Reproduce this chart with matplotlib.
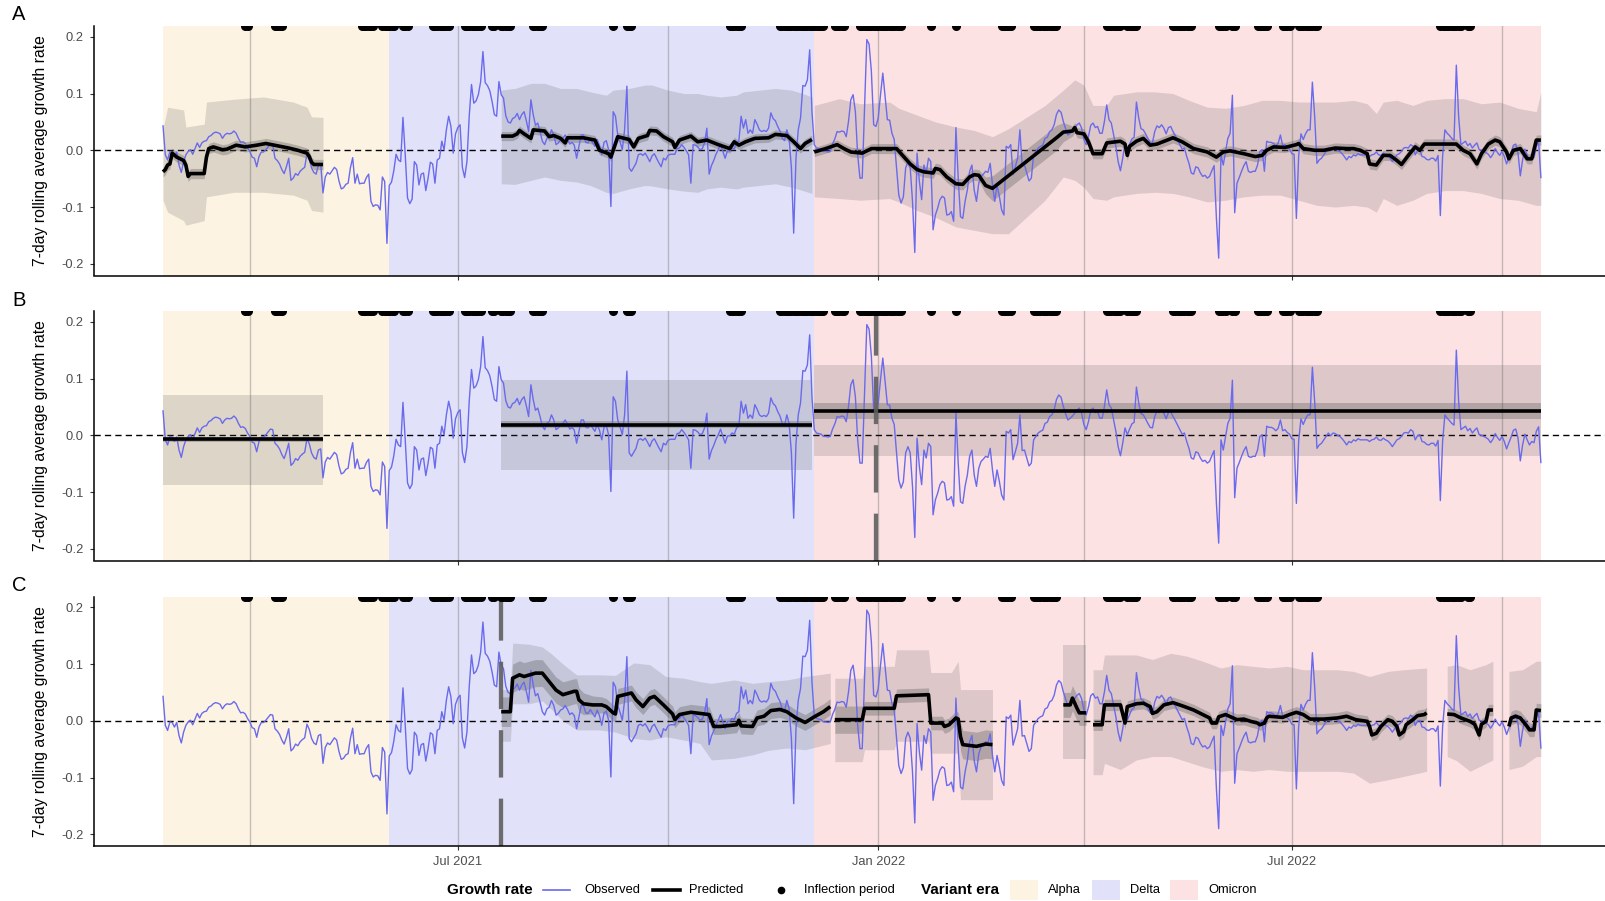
import matplotlib

matplotlib.use("Agg")
import matplotlib.pyplot as plt
import numpy as np
from matplotlib.lines import Line2D
from matplotlib.patches import Rectangle

plt.rcParams["font.family"] = ["Liberation Sans", "DejaVu Sans"]

# all days are offsets from the first observation
START = np.datetime64("2021-02-22")

# observed 7-day rolling average growth rate, one value per day (d0..d603)
OBSERVED = [
    0.043, -0.008, -0.017, -0.002, -0.003, -0.011, -0.003, -0.026, -0.039, -0.020,
    -0.008, -0.002, 0.001, -0.007, 0.003, 0.013, 0.005, 0.013, 0.016, 0.017,
    0.024, 0.026, 0.030, 0.032, 0.031, 0.029, 0.021, 0.027, 0.030, 0.029,
    0.030, 0.034, 0.030, 0.021, 0.014, 0.015, 0.012, 0.004, -0.002, -0.012,
    -0.014, -0.029, -0.011, -0.003, -0.003, 0.001, 0.006, 0.011, 0.010, -0.014,
    -0.018, -0.024, -0.034, -0.041, -0.029, -0.014, -0.053, -0.049, -0.041, -0.044,
    -0.037, -0.033, -0.030, -0.006, -0.015, -0.031, -0.039, -0.042, -0.026, -0.024,
    -0.075, -0.047, -0.039, -0.042, -0.036, -0.030, -0.034, -0.054, -0.068, -0.066,
    -0.060, -0.058, -0.031, -0.013, -0.058, -0.042, -0.059, -0.058, -0.058, -0.048,
    -0.042, -0.090, -0.099, -0.096, -0.097, -0.105, -0.047, -0.055, -0.164, -0.062,
    -0.056, -0.036, -0.007, -0.017, -0.020, 0.058, -0.008, -0.084, -0.094, -0.086,
    -0.020, -0.026, -0.061, -0.042, -0.040, -0.071, -0.049, -0.021, -0.024, -0.058,
    -0.017, -0.014, 0.016, 0.001, 0.036, 0.060, 0.042, -0.005, 0.029, 0.040,
    0.045, -0.030, -0.048, -0.020, 0.060, 0.116, 0.083, 0.087, 0.098, 0.121,
    0.174, 0.119, 0.114, 0.105, 0.086, 0.063, 0.060, 0.121, 0.098, 0.092,
    0.061, 0.050, 0.048, 0.056, 0.058, 0.065, 0.054, 0.063, 0.068, 0.052,
    0.033, 0.089, 0.063, 0.044, 0.048, 0.033, 0.016, 0.010, 0.021, 0.024,
    0.036, 0.027, 0.010, 0.013, 0.019, 0.021, 0.027, 0.020, 0.011, 0.014,
    0.009, -0.014, 0.007, 0.027, 0.027, 0.014, 0.013, 0.020, 0.013, 0.007,
    0.019, 0.009, -0.008, 0.014, 0.017, 0.001, -0.099, 0.068, 0.060, 0.027,
    0.015, 0.001, 0.036, 0.113, -0.031, -0.037, -0.030, -0.023, -0.008, -0.006,
    -0.009, -0.005, -0.012, -0.020, -0.010, -0.006, -0.014, -0.022, -0.029, -0.014,
    -0.017, -0.009, -0.007, -0.007, -0.007, 0.003, 0.004, 0.010, 0.005, -0.001,
    -0.008, -0.058, 0.010, 0.009, 0.006, 0.001, 0.003, 0.013, 0.039, -0.042,
    -0.027, -0.018, -0.007, 0.001, 0.011, -0.002, -0.014, -0.001, -0.001, 0.004,
    0.002, 0.013, 0.016, 0.060, 0.039, 0.054, 0.030, 0.036, 0.030, 0.054,
    0.046, 0.036, 0.033, 0.035, 0.033, 0.039, 0.066, 0.056, 0.052, 0.042,
    0.034, 0.021, 0.017, 0.036, 0.021, -0.031, -0.146, -0.014, 0.036, 0.057,
    0.114, 0.113, 0.124, 0.177, 0.068, 0.010, 0.004, 0.003, 0.002, -0.002,
    -0.002, -0.003, -0.002, 0.011, 0.020, 0.033, 0.032, 0.034, 0.033, 0.024,
    0.051, 0.089, 0.098, 0.068, -0.008, -0.049, -0.049, 0.074, 0.195, 0.187,
    0.139, 0.045, 0.042, 0.057, 0.098, 0.136, 0.095, 0.054, 0.053, 0.030,
    0.019, -0.029, -0.079, -0.093, -0.082, -0.031, -0.020, -0.031, -0.090, -0.180,
    -0.005, -0.055, -0.087, -0.026, -0.040, -0.014, -0.020, -0.140, -0.114, -0.102,
    -0.087, -0.081, -0.084, -0.114, -0.113, -0.108, -0.125, 0.040, -0.049, -0.117,
    -0.120, -0.090, -0.070, -0.037, -0.026, -0.070, -0.090, -0.058, -0.046, -0.042,
    -0.037, -0.039, -0.023, -0.061, -0.090, -0.061, -0.081, -0.105, -0.114, 0.007,
    0.004, 0.010, -0.043, -0.029, -0.014, 0.036, -0.027, -0.026, -0.040, -0.054,
    -0.049, -0.008, -0.002, 0.004, 0.007, 0.009, 0.021, 0.023, 0.033, 0.036,
    0.045, 0.063, 0.071, 0.067, 0.051, 0.038, 0.027, 0.030, 0.034, 0.039,
    0.045, 0.048, 0.039, 0.019, 0.010, 0.024, 0.044, 0.048, 0.040, 0.042,
    0.030, 0.030, 0.051, 0.080, 0.054, 0.048, 0.027, 0.007, -0.020, -0.036,
    -0.014, 0.013, 0.001, 0.011, 0.020, 0.023, 0.085, 0.057, 0.038, 0.036,
    0.029, 0.021, 0.014, 0.013, 0.033, 0.043, 0.040, 0.045, 0.039, 0.029,
    0.040, 0.042, 0.033, 0.026, 0.018, 0.010, 0.002, 0.004, -0.011, -0.023,
    -0.040, -0.042, -0.029, -0.031, -0.040, -0.046, -0.044, -0.049, -0.046, -0.036,
    -0.027, -0.120, -0.190, -0.008, -0.026, -0.003, 0.021, 0.030, 0.097, -0.110,
    -0.058, -0.048, -0.037, -0.027, -0.020, -0.037, -0.039, -0.037, -0.037, -0.026,
    -0.002, 0.001, -0.037, 0.016, 0.014, 0.014, 0.012, 0.008, 0.012, 0.027,
    0.008, 0.010, 0.005, 0.002, -0.006, -0.007, -0.120, -0.010, 0.029, 0.019,
    0.029, 0.036, 0.036, 0.120, 0.060, -0.023, -0.017, -0.014, -0.008, -0.002,
    0.004, -0.001, 0.004, 0.003, 0.000, -0.002, -0.006, -0.011, -0.017, -0.011,
    -0.013, -0.008, -0.010, -0.006, -0.008, -0.008, -0.008, -0.008, -0.011, -0.008,
    -0.007, -0.003, -0.008, -0.009, -0.005, -0.008, -0.010, -0.014, -0.020, -0.014,
    -0.008, -0.006, -0.002, 0.004, 0.005, 0.004, 0.010, 0.007, -0.008, -0.001,
    0.001, -0.011, -0.012, -0.016, -0.017, -0.014, -0.014, -0.019, -0.009, -0.115,
    -0.010, 0.036, 0.030, 0.026, 0.021, 0.018, 0.150, 0.060, 0.010, 0.013,
    0.016, 0.008, 0.012, 0.004, 0.009, 0.013, 0.001, 0.000, -0.002, -0.004,
    -0.007, -0.013, -0.007, 0.003, -0.004, -0.009, -0.002, -0.011, -0.024, -0.013,
    -0.003, 0.009, 0.011, -0.005, -0.045, -0.017, 0.002, -0.008, -0.017, -0.011,
    -0.013, 0.007, 0.015, -0.048,
]

ERA_NAMES = ["Alpha", "Delta", "Omicron"]
ERA_FROM = [0, 99, 285]
ERA_TO = [99, 285, 603]
ERA_COLORS = ["#FDF3E3", "#E1E2FA", "#FDE2E4"]

# inflection periods (inclusive day ranges)
INFLECTION_FROM = [36, 49, 87, 96, 105, 118, 132, 144, 148, 162, 197, 203, 248, 270, 294,
                   305, 336, 347, 367, 381, 413, 422, 442, 462, 468, 479, 490, 497, 559, 571]
INFLECTION_TO = [37, 52, 92, 101, 107, 125, 139, 145, 152, 166, 197, 205, 253, 289, 298,
                 323, 336, 347, 371, 391, 419, 426, 450, 465, 469, 483, 493, 505, 568, 572]

QUARTERS = ["2021-04-01", "2021-07-01", "2021-10-01", "2022-01-01",
            "2022-04-01", "2022-07-01", "2022-10-01"]
TICK_DATES = ["2021-07-01", "2022-01-01", "2022-07-01"]
TICK_LABELS = ["Jul 2021", "Jan 2022", "Jul 2022"]
Y_TICKS = [-0.2, -0.1, 0.0, 0.1, 0.2]
Y_LABELS = ["-0.2", "-0.1", "0.0", "0.1", "0.2"]

# ---- panel A: rolling model -------------------------------------------------
A1_DAYS = [0, 1, 2, 3, 4, 6, 9, 10, 11, 12, 18, 19, 20, 22, 26, 28, 32, 36, 41, 45, 50, 55,
           59, 63, 64, 65, 66, 70]
A1_PRED = [-0.038, -0.034, -0.026, -0.024, -0.005, -0.012, -0.018, -0.026, -0.046, -0.041,
           -0.041, -0.012, 0.003, 0.006, 0.001, 0.002, 0.009, 0.006, 0.009, 0.012, 0.008,
           0.004, 0.000, -0.005, -0.011, -0.021, -0.025, -0.025]
A1_BAND_DAYS = [0, 2, 9, 10, 18, 19, 31, 44, 57, 63, 65, 70]
A1_LO = [-0.088, -0.109, -0.124, -0.132, -0.124, -0.082, -0.074, -0.074, -0.079, -0.088,
         -0.106, -0.109]
A1_HI = [0.038, 0.076, 0.071, 0.041, 0.046, 0.085, 0.090, 0.094, 0.085, 0.076, 0.059, 0.058]

A2_DAYS = [148, 153, 155, 156, 158, 161, 162, 167, 169, 171, 174, 176, 177, 184, 189, 191,
           195, 196, 198, 199, 204, 206, 208, 212, 213, 216, 219, 223, 224, 226, 231, 234,
           238, 243, 248, 250, 252, 255, 259, 265, 268, 273, 276, 279, 281, 284]
A2_PRED = [0.025, 0.025, 0.029, 0.035, 0.029, 0.021, 0.036, 0.034, 0.024, 0.026, 0.021,
           0.013, 0.022, 0.022, 0.018, 0.000, -0.006, -0.012, 0.012, 0.024, 0.019, 0.006,
           0.021, 0.026, 0.035, 0.034, 0.024, 0.015, 0.005, 0.018, 0.025, 0.015, 0.018,
           0.010, 0.003, 0.015, 0.009, 0.015, 0.021, 0.022, 0.028, 0.026, 0.015, 0.003,
           0.012, 0.019]
A2_BAND_DAYS = [148, 154, 161, 167, 174, 181, 187, 194, 197, 204, 211, 214, 221, 228, 234,
                238, 244, 251, 254, 261, 268, 275, 280, 284]
A2_LO = [-0.059, -0.060, -0.053, -0.047, -0.053, -0.056, -0.062, -0.074, -0.076, -0.068,
         -0.062, -0.063, -0.068, -0.072, -0.074, -0.068, -0.065, -0.068, -0.065, -0.062,
         -0.059, -0.065, -0.071, -0.076]
A2_HI = [0.106, 0.109, 0.118, 0.118, 0.109, 0.109, 0.103, 0.097, 0.106, 0.109, 0.115,
         0.115, 0.106, 0.100, 0.100, 0.097, 0.094, 0.097, 0.103, 0.106, 0.109, 0.106,
         0.100, 0.094]

A3_DAYS = [285, 290, 295, 298, 301, 306, 310, 321, 323, 327, 330, 333, 337, 338, 340, 343,
           347, 350, 353, 355, 357, 360, 363, 391, 394, 398, 399, 400, 403, 405, 407, 411,
           413, 419, 421, 422, 423, 426, 429, 432, 435, 442, 446, 451, 457, 461, 464, 467,
           473, 478, 481, 483, 486, 491, 496, 497, 499, 504, 508, 513, 518, 521, 524, 527,
           528, 531, 534, 537, 540, 542, 545, 548, 550, 552, 566, 569, 572, 575, 577, 580,
           583, 585, 588, 589, 591, 594, 597, 599, 601, 603]
A3_PRED = [-0.003, 0.003, 0.010, 0.003, -0.003, -0.005, 0.003, 0.003, -0.006, -0.024,
           -0.034, -0.038, -0.040, -0.032, -0.034, -0.047, -0.059, -0.060, -0.047, -0.043,
           -0.044, -0.062, -0.067, 0.022, 0.032, 0.034, 0.040, 0.031, 0.029, 0.015,
           -0.006, -0.006, 0.013, 0.016, 0.011, -0.009, 0.007, 0.016, 0.021, 0.009,
           0.011, 0.022, 0.015, 0.003, -0.003, -0.012, -0.003, -0.001, -0.006, -0.011,
           -0.009, 0.000, 0.006, 0.005, 0.010, 0.012, 0.003, 0.000, 0.000, 0.004,
           0.003, 0.003, 0.000, -0.006, -0.024, -0.026, -0.009, -0.009, -0.018, -0.025,
           -0.009, 0.006, 0.000, 0.011, 0.011, 0.000, -0.006, -0.024, -0.006, 0.011,
           0.018, 0.015, -0.003, -0.015, 0.000, 0.003, -0.015, -0.015, 0.018, 0.018]
A3_BAND_DAYS = [285, 296, 305, 318, 322, 330, 338, 347, 355, 363, 370, 386, 394, 399, 403,
                407, 413, 416, 426, 434, 442, 449, 457, 465, 473, 481, 489, 497, 505, 513,
                521, 527, 531, 534, 540, 547, 553, 561, 569, 577, 585, 593, 601, 603]
A3_LO = [-0.082, -0.085, -0.088, -0.085, -0.091, -0.106, -0.118, -0.135, -0.141, -0.147,
         -0.147, -0.088, -0.047, -0.053, -0.065, -0.085, -0.088, -0.082, -0.076, -0.074,
         -0.076, -0.082, -0.091, -0.088, -0.082, -0.079, -0.079, -0.088, -0.097, -0.100,
         -0.097, -0.100, -0.109, -0.085, -0.097, -0.088, -0.076, -0.071, -0.071, -0.076,
         -0.085, -0.088, -0.097, -0.097]
A3_HI = [0.079, 0.091, 0.082, 0.085, 0.074, 0.062, 0.050, 0.041, 0.035, 0.024,
         0.038, 0.079, 0.106, 0.124, 0.115, 0.079, 0.079, 0.097, 0.103, 0.103,
         0.100, 0.088, 0.076, 0.074, 0.079, 0.088, 0.088, 0.085, 0.085, 0.085,
         0.088, 0.082, 0.065, 0.085, 0.088, 0.079, 0.088, 0.091, 0.091, 0.082,
         0.085, 0.074, 0.068, 0.103]
A3_IW_DAYS = [285, 358, 363, 392, 397, 603]
A3_IW = [0.008, 0.010, 0.022, 0.022, 0.009, 0.009]

# ---- panel B: one fit per variant era ---------------------------------------
B1_DAYS, B1_PRED = [0, 70], [-0.007, -0.007]
B1_LO, B1_HI = [-0.087, -0.087], [0.071, 0.071]
B2_DAYS, B2_PRED = [148, 284], [0.019, 0.019]
B2_LO, B2_HI = [-0.061, -0.061], [0.098, 0.098]
B3_DAYS, B3_PRED = [285, 603], [0.043, 0.043]
B3_LO, B3_HI = [-0.037, -0.037], [0.124, 0.124]
B_BREAK = 312

# ---- panel C: piecewise fits ------------------------------------------------
C1_DAYS = [148, 152, 153, 156, 158, 163, 166, 169, 172, 175, 180, 181, 182, 184, 188, 192,
           194, 197, 198, 199, 205, 207, 210, 213, 215, 219, 223, 224, 226, 231, 237, 239,
           241, 244, 251, 252, 253, 258, 260, 263, 266, 270, 273, 277, 281, 285, 289, 292]
C1_PRED = [0.016, 0.016, 0.075, 0.081, 0.078, 0.084, 0.084, 0.069, 0.054, 0.046, 0.052,
           0.052, 0.037, 0.030, 0.028, 0.028, 0.025, 0.014, 0.012, 0.043, 0.049, 0.037,
           0.025, 0.040, 0.043, 0.028, 0.012, 0.002, 0.011, 0.015, 0.012, 0.011, -0.010,
           -0.010, -0.007, 0.001, -0.009, -0.010, 0.005, 0.008, 0.018, 0.020, 0.016, 0.005,
           -0.003, 0.007, 0.016, 0.025]
C1_BAND_DAYS = [148, 152, 153, 160, 166, 170, 175, 181, 191, 198, 206, 213, 220, 228, 235,
                240, 250, 258, 265, 273, 281, 292]
C1_LO = [-0.036, -0.036, 0.030, 0.030, 0.035, 0.020, 0.000, -0.016, -0.016, -0.020, -0.031,
         -0.034, -0.028, -0.034, -0.040, -0.069, -0.066, -0.060, -0.052, -0.048, -0.051,
         -0.040]
C1_HI = [0.055, 0.055, 0.137, 0.135, 0.130, 0.118, 0.100, 0.081, 0.081, 0.080, 0.102, 0.099,
         0.078, 0.075, 0.069, 0.066, 0.072, 0.066, 0.069, 0.072, 0.078, 0.084]
C1_IW_DAYS = [148, 152, 153, 181, 190, 292]
C1_IW = [0.026, 0.026, 0.025, 0.022, 0.014, 0.014]

C2_DAYS = [294, 306, 307, 320, 321, 335, 336, 341, 342, 344, 346, 347, 348, 349, 350, 356,
           360, 363]
C2_PRED = [0.002, 0.002, 0.022, 0.022, 0.044, 0.046, -0.004, -0.004, -0.010, -0.007, 0.001,
           0.005, 0.003, -0.028, -0.042, -0.045, -0.041, -0.042]
C2_BAND_DAYS = [294, 306, 307, 320, 321, 335, 336, 345, 348, 349, 363]
C2_LO = [-0.072, -0.072, -0.051, -0.051, -0.036, -0.036, -0.057, -0.057, -0.057, -0.139,
         -0.139]
C2_HI = [0.075, 0.075, 0.096, 0.096, 0.125, 0.125, 0.085, 0.085, 0.105, 0.055, 0.055]
C2_IW_DAYS = [294, 306, 307, 348, 349, 363]
C2_IW = [0.024, 0.024, 0.012, 0.012, 0.025, 0.025]

C3_DAYS = [394, 397, 398, 399, 400, 401, 404]
C3_PRED = [0.028, 0.028, 0.040, 0.031, 0.022, 0.014, 0.014]
C3_BAND_DAYS = [394, 404]
C3_LO, C3_HI = [-0.068, -0.068], [0.134, 0.134]

C4_DAYS = [407, 411, 412, 419, 421, 422, 426, 429, 432, 433, 435, 438, 442, 447, 451, 455,
           458, 459, 461, 462, 465, 470, 473, 476, 479, 480, 482, 483, 484, 490, 493, 496,
           499, 502, 508, 514, 518, 522, 527, 528, 529, 531, 533, 536, 538, 540, 541, 543,
           544, 547, 549, 552, 553]
C4_PRED = [-0.007, -0.007, 0.028, 0.028, -0.004, 0.025, 0.030, 0.031, 0.025, 0.013,
           0.016, 0.028, 0.032, 0.025, 0.019, 0.011, 0.005, -0.004, -0.004, 0.007,
           0.011, 0.002, 0.003, -0.001, -0.004, -0.007, -0.004, 0.005, 0.008, 0.006,
           0.011, 0.015, 0.011, 0.003, 0.003, 0.005, 0.008, 0.002, -0.001, -0.010,
           -0.025, -0.022, -0.010, 0.002, -0.001, -0.010, -0.025, -0.019, -0.007, 0.002,
           0.009, 0.011, 0.014]
C4_BAND_DAYS = [407, 411, 412, 419, 426, 433, 441, 448, 455, 463, 470, 477, 484, 492, 499,
                514, 521, 528, 536, 543, 553]
C4_LO = [-0.095, -0.095, -0.075, -0.086, -0.069, -0.063, -0.063, -0.072, -0.081, -0.089,
         -0.086, -0.089, -0.086, -0.089, -0.089, -0.089, -0.092, -0.110, -0.104, -0.098,
         -0.089]
C4_HI = [0.090, 0.090, 0.116, 0.116, 0.116, 0.108, 0.119, 0.114, 0.105, 0.093, 0.099,
         0.096, 0.093, 0.096, 0.090, 0.090, 0.087, 0.078, 0.087, 0.090, 0.093]

C5_DAYS = [562, 565, 568, 572, 574, 576, 577, 579, 580, 582]
C5_PRED = [0.012, 0.011, 0.005, -0.001, -0.006, -0.025, -0.006, -0.001, 0.019, 0.019]
C5_BAND_DAYS = [562, 566, 572, 579, 582]
C5_LO = [-0.063, -0.070, -0.089, -0.075, -0.069]
C5_HI = [0.096, 0.099, 0.090, 0.099, 0.105]

C6_DAYS = [589, 590, 592, 594, 597, 598, 600, 601, 603]
C6_PRED = [-0.010, 0.005, 0.008, 0.005, -0.010, -0.016, -0.016, 0.019, 0.018]
C6_BAND_DAYS = [589, 595, 601, 603]
C6_LO = [-0.086, -0.080, -0.063, -0.063]
C6_HI = [0.087, 0.090, 0.105, 0.105]
C_BREAK = 148

OBS_COLOR = "#6a6aec"
RIBBON_COLOR = "#505050"
W, H = 1606, 901
Y_MIN, Y_MAX = -0.2206, 0.219


def to_dates(days):
    return START + np.asarray(days, dtype="timedelta64[D]")


def seg(days, pred, band_days, lo, hi, iw):
    return dict(days=days, pred=pred, band_days=band_days, lo=lo, hi=hi, iw=iw)


PANELS = [
    ("A", [
        seg(A1_DAYS, A1_PRED, A1_BAND_DAYS, A1_LO, A1_HI, 0.009),
        seg(A2_DAYS, A2_PRED, A2_BAND_DAYS, A2_LO, A2_HI, 0.008),
        seg(A3_DAYS, A3_PRED, A3_BAND_DAYS, A3_LO, A3_HI, (A3_IW_DAYS, A3_IW)),
    ], None),
    ("B", [
        seg(B1_DAYS, B1_PRED, B1_DAYS, B1_LO, B1_HI, 0.004),
        seg(B2_DAYS, B2_PRED, B2_DAYS, B2_LO, B2_HI, 0.006),
        seg(B3_DAYS, B3_PRED, B3_DAYS, B3_LO, B3_HI, 0.014),
    ], B_BREAK),
    ("C", [
        seg(C1_DAYS, C1_PRED, C1_BAND_DAYS, C1_LO, C1_HI, (C1_IW_DAYS, C1_IW)),
        seg(C2_DAYS, C2_PRED, C2_BAND_DAYS, C2_LO, C2_HI, (C2_IW_DAYS, C2_IW)),
        seg(C3_DAYS, C3_PRED, C3_BAND_DAYS, C3_LO, C3_HI, 0.022),
        seg(C4_DAYS, C4_PRED, C4_BAND_DAYS, C4_LO, C4_HI, 0.010),
        seg(C5_DAYS, C5_PRED, C5_BAND_DAYS, C5_LO, C5_HI, 0.010),
        seg(C6_DAYS, C6_PRED, C6_BAND_DAYS, C6_LO, C6_HI, 0.012),
    ], C_BREAK),
]


def draw_segment(ax, s):
    ax.fill_between(to_dates(s["band_days"]), s["lo"], s["hi"], color=RIBBON_COLOR,
                    alpha=0.18, lw=0, zorder=3)
    pred = np.asarray(s["pred"], dtype=float)
    iw = s["iw"]
    if isinstance(iw, tuple):
        iw = np.interp(s["days"], iw[0], iw[1])
    x = to_dates(s["days"])
    ax.fill_between(x, pred - iw, pred + iw, color=RIBBON_COLOR, alpha=0.3, lw=0, zorder=3)
    ax.plot(x, pred, color="black", lw=2.6, zorder=5, solid_capstyle="butt")


fig = plt.figure(figsize=(W / 100, H / 100), dpi=100)
panel_tops = [26, 311, 596.5]
ax_h = 249.5
obs_x = to_dates(np.arange(len(OBSERVED)))
infl_days = np.concatenate([np.arange(a, b + 1) for a, b in zip(INFLECTION_FROM, INFLECTION_TO)])

for i, (letter, segments, break_day) in enumerate(PANELS):
    top = panel_tops[i]
    ax = fig.add_axes([94 / W, 1 - (top + ax_h) / H, 1 - 94 / W, ax_h / H])

    for a, b, c in zip(ERA_FROM, ERA_TO, ERA_COLORS):
        ax.axvspan(to_dates(a), to_dates(b), color=c, lw=0, zorder=0)
    for q in QUARTERS:
        ax.axvline(np.datetime64(q), color="#808080", alpha=0.45, lw=1.0, zorder=1)
    ax.axhline(0, color="black", lw=1.0, ls=(0, (4.5, 3)), zorder=2)

    for s in segments:
        draw_segment(ax, s)
    ax.plot(obs_x, OBSERVED, color=OBS_COLOR, lw=1.0, zorder=4)

    if break_day is not None:
        ax.axvline(to_dates(break_day), color="#5f5f5f", alpha=0.9, lw=3.1,
                   ls=(0, (11, 4.9)), zorder=6)

    ax.plot(to_dates(infl_days), np.full(len(infl_days), Y_MAX), "o", color="black",
            ms=6.5, mec="none", zorder=7, clip_on=True)

    ax.set_ylim(Y_MIN, Y_MAX)
    ax.set_xlim(START - np.timedelta64(725, "h"), START + np.timedelta64(15156, "h"))
    ax.set_yticks(Y_TICKS)
    ax.set_yticklabels(Y_LABELS)
    ax.set_xticks([np.datetime64(t) for t in TICK_DATES])
    ax.set_xticklabels(TICK_LABELS if i == 2 else [])
    ax.tick_params(axis="both", length=2.9, width=0.8, color="#333333",
                   labelsize=9.3, labelcolor="#4D4D4D")
    ax.tick_params(axis="y", pad=4.5)
    ax.tick_params(axis="x", pad=4.5)
    for side in ("top", "right"):
        ax.spines[side].set_visible(False)
    for side in ("left", "bottom"):
        ax.spines[side].set_linewidth(1.1)
        ax.spines[side].set_zorder(8)
    ax.set_ylabel("7-day rolling average growth rate", fontsize=11.3, va="center")
    ax.yaxis.set_label_coords(-(94 - 40.5) / (W - 94), 0.5)
    ax.set_facecolor("white")

    fig.text(12 / W, 1 - (top - 11) / H, letter, fontsize=14.5, ha="left", va="center")

# legend along the bottom
ly = 1 - 890 / H


def fx(px):
    return px / W


fig.text(fx(447), ly, "Growth rate", fontsize=11, fontweight="bold", va="center")
fig.add_artist(Line2D([fx(543), fx(570)], [ly, ly], color=OBS_COLOR, lw=1.2))
fig.text(fx(584), ly, "Observed", fontsize=9.3, va="center")
fig.add_artist(Line2D([fx(653), fx(680)], [ly, ly], color="black", lw=2.6))
fig.text(fx(689), ly, "Predicted", fontsize=9.3, va="center")
fig.add_artist(Line2D([fx(781)], [ly], marker="o", ms=4.5, color="black", ls="none"))
fig.text(fx(804), ly, "Inflection period", fontsize=9.3, va="center")
fig.text(fx(921), ly, "Variant era", fontsize=11, fontweight="bold", va="center")
for name, c, x0 in zip(ERA_NAMES, ERA_COLORS, [1010, 1092, 1170]):
    fig.add_artist(Rectangle((fx(x0), 1 - 900 / H), 28 / W, 20 / H, color=c, lw=0,
                             transform=fig.transFigure))
    fig.text(fx(x0 + 38), ly, name, fontsize=9.3, va="center")

fig.savefig("out.png", dpi=100)
